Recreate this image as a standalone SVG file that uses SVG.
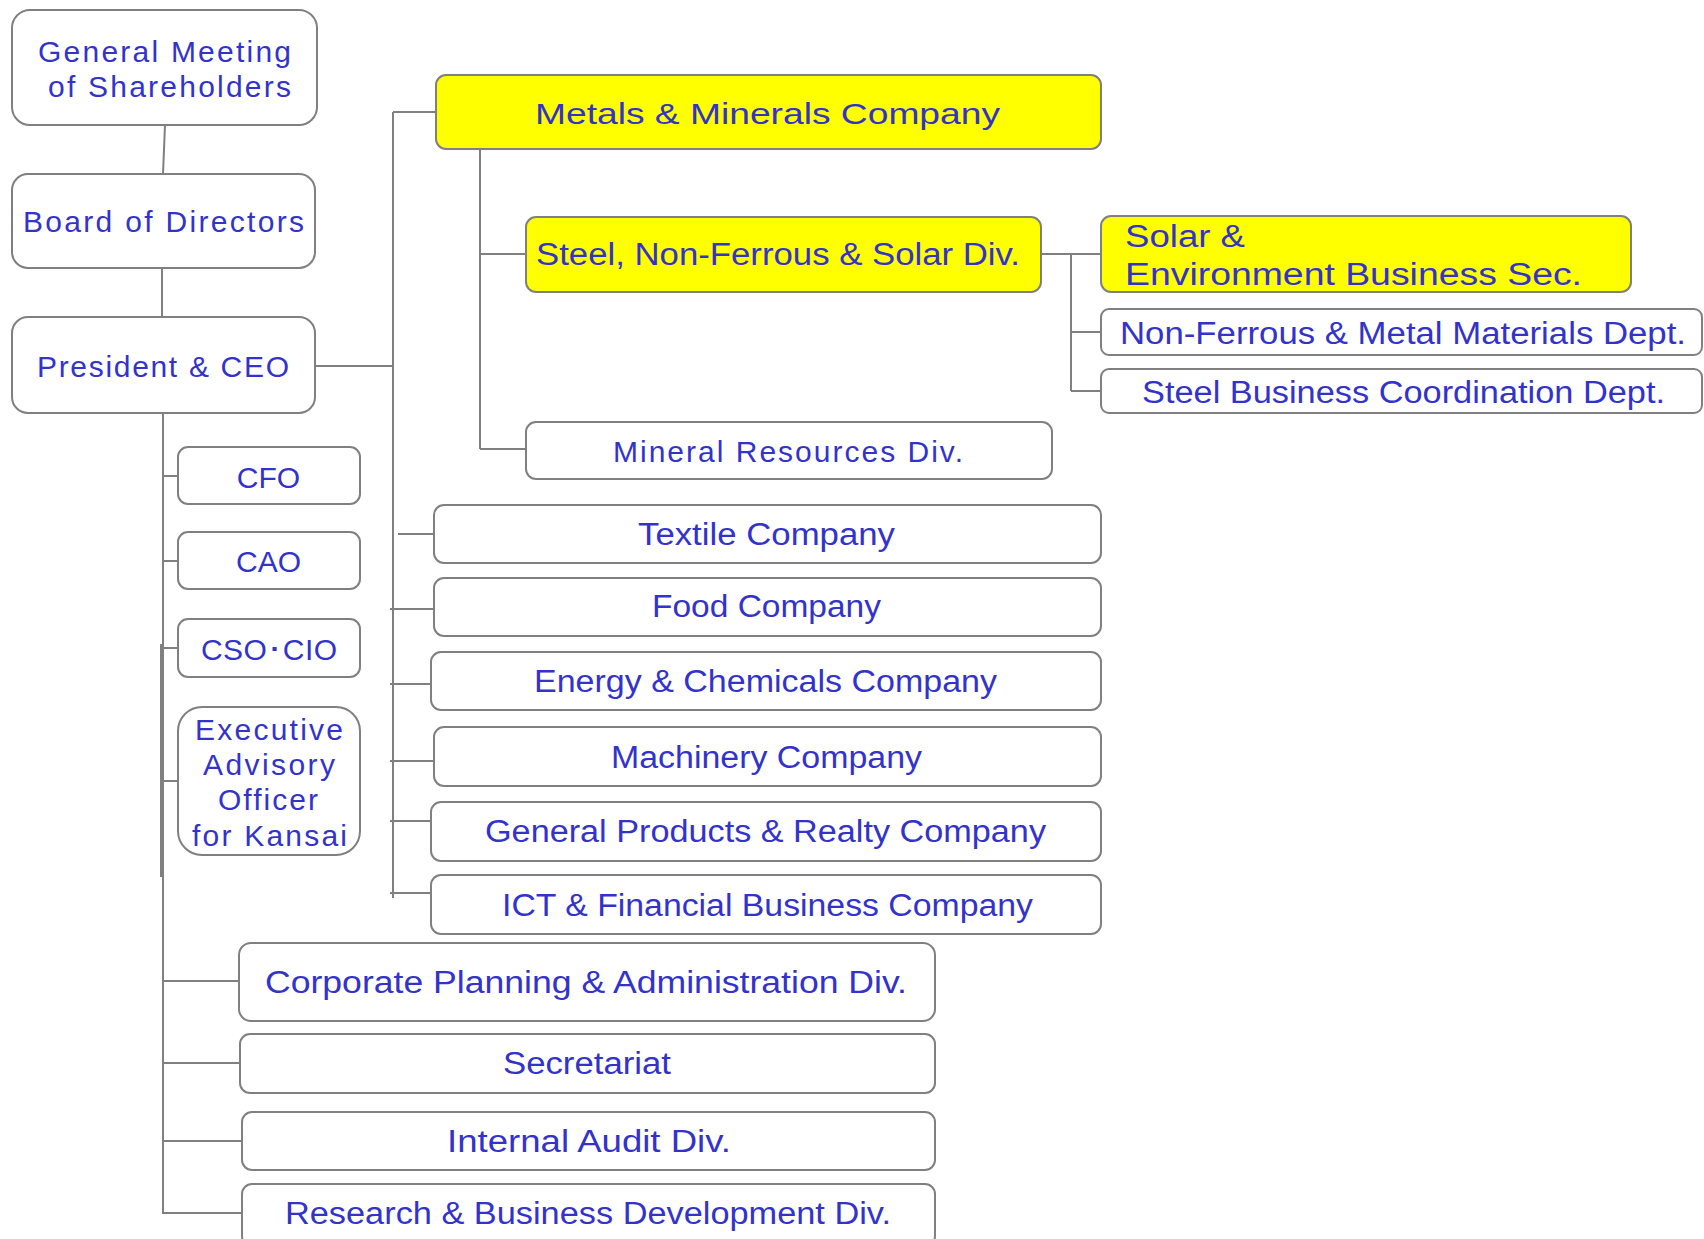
<svg xmlns="http://www.w3.org/2000/svg" width="1704" height="1239" viewBox="0 0 1704 1239">
<style>
.box{fill:#ffffff;stroke:#808080;stroke-width:2}
.hl{fill:#ffff00;stroke:#808080;stroke-width:2}
.t{font-family:"Liberation Sans",Arial,sans-serif;font-size:30px;fill:#3333cc}
.n{font-size:31px}
.c{stroke:#808080;stroke-width:2;fill:none}
</style>
<rect width="1704" height="1239" fill="#ffffff"/>
<g id="connectors">
<line class="c" x1="165" y1="125" x2="163" y2="174"/>
<line class="c" x1="162" y1="268" x2="162" y2="317" stroke-width="3"/>
<line class="c" x1="292" y1="366" x2="393" y2="366"/>
<line class="c" x1="393" y1="112" x2="393" y2="898"/>
<line class="c" x1="393" y1="112" x2="436" y2="112"/>
<line class="c" x1="480" y1="149" x2="480" y2="449"/>
<line class="c" x1="480" y1="254" x2="526" y2="254"/>
<line class="c" x1="480" y1="449" x2="526" y2="449"/>
<line class="c" x1="1041" y1="254" x2="1101" y2="254"/>
<line class="c" x1="1071" y1="254" x2="1071" y2="391"/>
<line class="c" x1="1071" y1="332" x2="1101" y2="332"/>
<line class="c" x1="1071" y1="391" x2="1101" y2="391"/>
<line class="c" x1="398" y1="534" x2="434" y2="534"/>
<line class="c" x1="390" y1="609" x2="434" y2="609" stroke-width="3"/>
<line class="c" x1="390" y1="684" x2="431" y2="684"/>
<line class="c" x1="390" y1="761" x2="434" y2="761"/>
<line class="c" x1="390" y1="821" x2="431" y2="821"/>
<line class="c" x1="390" y1="893" x2="431" y2="893"/>
<polyline class="c" points="163,413 163,1213 242,1213"/>
<line class="c" x1="161" y1="644" x2="161" y2="877" stroke-width="3"/>
<line class="c" x1="163" y1="476" x2="178" y2="476"/>
<line class="c" x1="163" y1="561" x2="178" y2="561"/>
<line class="c" x1="163" y1="648" x2="178" y2="648"/>
<line class="c" x1="163" y1="781" x2="178" y2="781"/>
<line class="c" x1="163" y1="981" x2="239" y2="981"/>
<line class="c" x1="163" y1="1063" x2="240" y2="1063"/>
<line class="c" x1="163" y1="1141" x2="242" y2="1141"/>
</g>
<g id="gm"><rect class="box" x="12" y="10" width="305" height="115" rx="18"/>
<text class="t" x="38" y="62" textLength="253">General Meeting</text>
<text class="t" x="48" y="97" textLength="243">of Shareholders</text></g>
<g id="bod"><rect class="box" x="12" y="174" width="303" height="94" rx="16"/>
<text class="t" x="23" y="232" textLength="281">Board of Directors</text></g>
<g id="pres"><rect class="box" x="12" y="317" width="303" height="96" rx="16"/>
<text class="t" x="37" y="377" textLength="252">President &amp; CEO</text></g>
<g id="cfo"><rect class="box" x="178" y="447" width="182" height="57" rx="10"/>
<text class="t" x="268.5" y="488" text-anchor="middle" font-size="29">CFO</text></g>
<g id="cao"><rect class="box" x="178" y="532" width="182" height="57" rx="10"/>
<text class="t" x="268.5" y="572" text-anchor="middle" font-size="29">CAO</text></g>
<g id="csocio"><rect class="box" x="178" y="619" width="182" height="58" rx="10"/>
<text class="t" x="201" y="660" textLength="136">CSO･CIO</text></g>
<g id="exec"><rect class="box" x="178" y="707" width="182" height="148" rx="24"/>
<text class="t" x="195" y="740" textLength="148">Executive</text>
<text class="t" x="203" y="775" textLength="132">Advisory</text>
<text class="t" x="218" y="810" textLength="100">Officer</text>
<text class="t" x="192" y="846" textLength="155">for Kansai</text></g>
<g id="metals"><rect class="hl" x="436" y="75" width="665" height="74" rx="10"/>
<text class="t" x="535" y="124" font-size="32" textLength="465" lengthAdjust="spacingAndGlyphs">Metals &amp; Minerals Company</text></g>
<g id="steel"><rect class="hl" x="526" y="217" width="515" height="75" rx="10"/>
<text class="t n" x="536" y="265" textLength="484" lengthAdjust="spacingAndGlyphs">Steel, Non-Ferrous &amp; Solar Div.</text></g>
<g id="solar"><rect class="hl" x="1101" y="216" width="530" height="76" rx="10"/>
<text class="t n" x="1125" y="247" textLength="120" lengthAdjust="spacingAndGlyphs">Solar &amp;</text>
<text class="t n" x="1125" y="285" textLength="457" lengthAdjust="spacingAndGlyphs">Environment Business Sec.</text></g>
<g id="nonferrous"><rect class="box" x="1101" y="309" width="601" height="46" rx="8"/>
<text class="t n" x="1120" y="344" textLength="566" lengthAdjust="spacingAndGlyphs">Non-Ferrous &amp; Metal Materials Dept.</text></g>
<g id="steelbiz"><rect class="box" x="1101" y="369" width="601" height="44" rx="8"/>
<text class="t n" x="1142" y="403" textLength="523" lengthAdjust="spacingAndGlyphs">Steel Business Coordination Dept.</text></g>
<g id="mineral"><rect class="box" x="526" y="422" width="526" height="57" rx="10"/>
<text class="t" x="613" y="462" font-size="28.5" textLength="350">Mineral Resources Div.</text></g>
<g id="textile"><rect class="box" x="434" y="505" width="667" height="58" rx="10"/>
<text class="t n" x="638" y="545" textLength="257" lengthAdjust="spacingAndGlyphs">Textile Company</text></g>
<g id="food"><rect class="box" x="434" y="578" width="667" height="58" rx="10"/>
<text class="t n" x="652" y="617" textLength="229" lengthAdjust="spacingAndGlyphs">Food Company</text></g>
<g id="energy"><rect class="box" x="431" y="652" width="670" height="58" rx="10"/>
<text class="t n" x="534" y="692" textLength="463" lengthAdjust="spacingAndGlyphs">Energy &amp; Chemicals Company</text></g>
<g id="machinery"><rect class="box" x="434" y="727" width="667" height="59" rx="10"/>
<text class="t n" x="611" y="768" textLength="311" lengthAdjust="spacingAndGlyphs">Machinery Company</text></g>
<g id="gp"><rect class="box" x="431" y="802" width="670" height="59" rx="10"/>
<text class="t n" x="485" y="842" textLength="561" lengthAdjust="spacingAndGlyphs">General Products &amp; Realty Company</text></g>
<g id="ict"><rect class="box" x="431" y="875" width="670" height="59" rx="10"/>
<text class="t n" x="502" y="916" textLength="531" lengthAdjust="spacingAndGlyphs">ICT &amp; Financial Business Company</text></g>
<g id="corp"><rect class="box" x="239" y="943" width="696" height="78" rx="12"/>
<text class="t n" x="265" y="993" textLength="642" lengthAdjust="spacingAndGlyphs">Corporate Planning &amp; Administration Div.</text></g>
<g id="secretariat"><rect class="box" x="240" y="1034" width="695" height="59" rx="10"/>
<text class="t n" x="503" y="1074" textLength="168" lengthAdjust="spacingAndGlyphs">Secretariat</text></g>
<g id="audit"><rect class="box" x="242" y="1112" width="693" height="58" rx="10"/>
<text class="t n" x="447" y="1152" textLength="284" lengthAdjust="spacingAndGlyphs">Internal Audit Div.</text></g>
<g id="research"><rect class="box" x="242" y="1184" width="693" height="62" rx="10"/>
<text class="t n" x="285" y="1224" textLength="606" lengthAdjust="spacingAndGlyphs">Research &amp; Business Development Div.</text></g>
</svg>
